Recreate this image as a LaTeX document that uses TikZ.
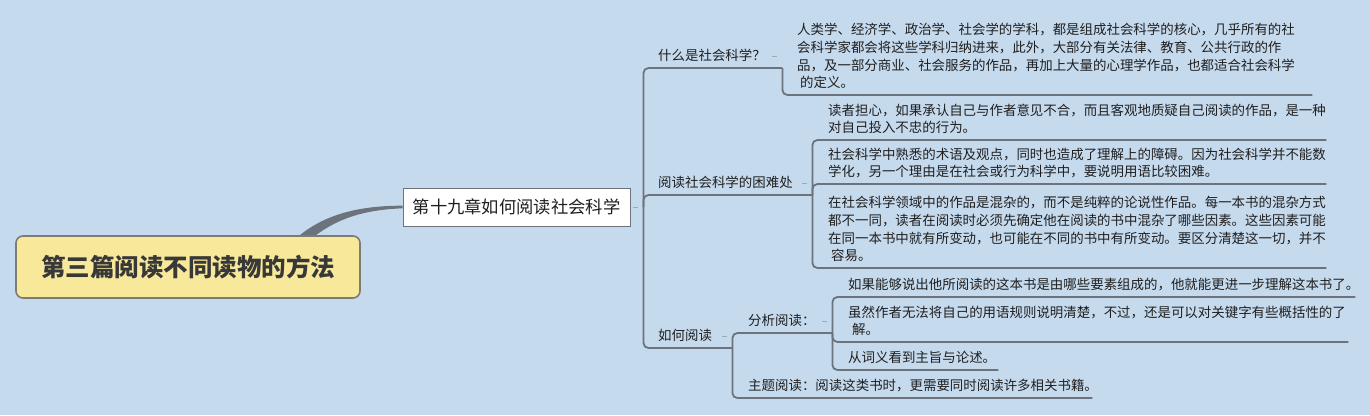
\documentclass[tikz,border=0pt]{standalone}
\usepackage{fontspec}
\setmainfont{Noto Sans CJK SC}
\usepackage{xcolor}
\usetikzlibrary{calc}

\definecolor{bgblue}{HTML}{C6DAEE}
\definecolor{branchgray}{HTML}{6C737C}
\definecolor{rootfill}{HTML}{F8E99A}
\definecolor{rootline}{HTML}{7B7B78}
\definecolor{markgray}{HTML}{9DAAB8}
\definecolor{inkgray}{HTML}{1F1F1F}

\newcommand\leaftext[2]{\parbox[b]{#1}{\raggedright #2}}

\begin{document}
\begin{tikzpicture}[
x=1pt, y=-1pt,
root/.style={draw=rootline, line width=1.6pt, fill=rootfill, rounded corners=7pt, minimum width=344pt, minimum height=62pt, inner sep=0pt, font=\fontsize{24.5}{28}\selectfont\bfseries, text=black!78},
chapter/.style={draw=branchgray, line width=0.9pt, fill=white, minimum width=227pt, minimum height=38pt, inner sep=0pt, font=\fontsize{17.3}{20}\selectfont, text=inkgray},
topic/.style={anchor=south west, inner xsep=0pt, inner ysep=7pt, text depth=0pt, font=\fontsize{13.45}{17.8}\selectfont, text=inkgray},
branch/.style={draw=branchgray, line width=1.8pt, rounded corners=5pt},
fold/.style={draw=markgray, line width=0.9pt}
]
\path[use as bounding box, fill=bgblue] (0,0) rectangle (1370,415);

\node[root] (root) at (188,267) {第三篇阅读不同读物的方法};
\node[chapter] (chap) at (516.5,207) {第十九章如何阅读社会科学};
\coordinate (hub) at ([xshift=13pt]chap.east);

\node[topic] (what) at (658,68) {\leaftext{124pt}{什么是社会科学？}};
\node[topic] (whatdef) at (797,95) {\leaftext{515pt}{人类学、经济学、政治学、社会学的学科，都是组成社会科学的核心，几乎所有的社\\会科学家都会将这些学科归纳进来，此外，大部分有关法律、教育、公共行政的作\\品，及一部分商业、社会服务的作品，再加上大量的心理学作品，也都适合社会科学\\\hspace*{3pt}的定义。}};

\node[topic] (hard) at (658,195) {\leaftext{154pt}{阅读社会科学的困难处}};
\node[topic] (hard1) at (828,140) {\leaftext{498pt}{读者担心，如果承认自己与作者意见不合，而且客观地质疑自己阅读的作品，是一种\\对自己投入不忠的行为。}};
\node[topic] (hard2) at (828,184) {\leaftext{498pt}{社会科学中熟悉的术语及观点，同时也造成了理解上的障碍。因为社会科学并不能数\\学化，另一个理由是在社会或行为科学中，要说明用语比较困难。}};
\node[topic] (hard3) at (828,268) {\leaftext{498pt}{在社会科学领域中的作品是混杂的，而不是纯粹的论说性作品。每一本书的混杂方式\\都不一同，读者在阅读时必须先确定他在阅读的书中混杂了哪些因素。这些因素可能\\在同一本书中就有所变动，也可能在不同的书中有所变动。要区分清楚这一切，并不\\\hspace*{3pt}容易。}};

\node[topic] (how) at (658,348) {\leaftext{74pt}{如何阅读}};
\node[topic] (analytic) at (748,333) {\leaftext{84pt}{分析阅读：}};
\node[topic] (analytic1) at (848,297) {\leaftext{507pt}{如果能够说出他所阅读的这本书是由哪些要素组成的，他就能更进一步理解这本书了。}};
\node[topic] (analytic2) at (848,342) {\leaftext{500pt}{虽然作者无法将自己的用语规则说明清楚，不过，还是可以对关键字有些概括性的了\\\hspace*{4pt}解。}};
\node[topic] (analytic3) at (848,370) {\leaftext{150pt}{从词义看到主旨与论述。}};
\node[topic] (syntopic) at (748,398) {\leaftext{344pt}{主题阅读：阅读这类书时，更需要同时阅读许多相关书籍。}};

\fill[branchgray] ($(root.north east)+(-61,0)$) .. controls (326,214) and (360,205.6) .. ($(chap.west)+(0,-1.3)$) -- ($(chap.west)+(0,1.3)$) .. controls (362,210) and (338,219) .. ($(root.north east)+(-45,0)$) -- cycle;

\draw[branch] (hub) |- (what.south east);
\draw[branch] (hub) |- (hard.south east);
\draw[branch] (hub) |- (how.south east);
\draw[branch] (what.south east) |- (whatdef.south east);
\foreach \n in {hard1,hard2,hard3}
  \draw[branch] (hard.south east) |- (\n.south east);
\draw[branch] (how.south east) |- (analytic.south east);
\draw[branch] (how.south east) |- (syntopic.south east);
\foreach \n in {analytic1,analytic2,analytic3}
  \draw[branch] (analytic.south east) |- (\n.south east);

\draw[fold] ([xshift=3pt]chap.east) -- ++(5,0);
\foreach \n in {what,hard,how,analytic}
  \draw[fold] ([xshift=-10pt,yshift=12pt]\n.south east) -- ++(5,0);
\end{tikzpicture}
\end{document}
